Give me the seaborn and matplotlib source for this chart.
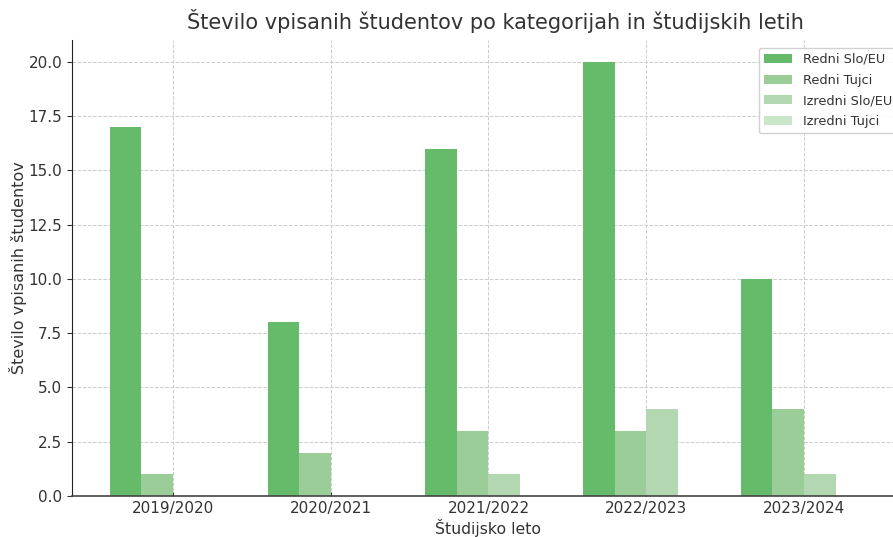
import numpy as np
import pandas as pd
import seaborn as sns
import matplotlib.pyplot as plt

leta = ["2019/2020", "2020/2021", "2021/2022", "2022/2023", "2023/2024"]
kategorije = ["Redni Slo/EU", "Redni Tujci", "Izredni Slo/EU", "Izredni Tujci"]
redni_slo = [17, 8, 16, 20, 10]
redni_tujci = [1, 2, 3, 3, 4]
izredni_slo = [0, 0, 1, 4, 1]
izredni_tujci = [0, 0, 0, 0, 0]
barve = ["#66bb6a", "#9bcd98", "#b3d8b1", "#c9e6c9"]

df = pd.DataFrame({
    "leto": leta * 4,
    "kategorija": np.repeat(kategorije, len(leta)),
    "stevilo": redni_slo + redni_tujci + izredni_slo + izredni_tujci,
})

plt.rcParams["font.family"] = ["DejaVu Sans"]
fig = plt.figure(figsize=(8.93, 5.37), dpi=100)
ax = fig.add_axes([0.0806, 0.0764, 0.9328, 0.849])

sns.barplot(data=df, x="leto", y="stevilo", hue="kategorija", palette=barve,
            saturation=1, width=0.8, ax=ax, zorder=2)

ax.set_xlim(-0.64, 4.64)
ax.set_ylim(0, 21)
ax.set_yticks(np.arange(0, 20.1, 2.5))
ax.grid(True, linestyle="--", color="#cccccc", linewidth=0.7, zorder=0)
ax.set_axisbelow(True)
for s in ["top", "right"]:
    ax.spines[s].set_visible(False)
ax.spines["left"].set_color("#222222")
ax.spines["bottom"].set_color("#444444")
ax.spines["bottom"].set_linewidth(1.2)
ax.tick_params(colors="#333333", labelsize=11)
ax.tick_params(axis="x", direction="in", length=3, pad=3.5)

ax.set_title("Število vpisanih študentov po kategorijah in študijskih letih",
             fontsize=15, color="#333333", pad=8, x=0.508)
ax.set_xlabel("Študijsko leto", fontsize=11.3, color="#333333", labelpad=2)
ax.set_ylabel("Število vpisanih študentov", fontsize=11.5, color="#333333", labelpad=1)
leg = ax.legend(loc="upper right", fontsize=9.3, title=None, framealpha=0.9,
                labelspacing=0.6, handlelength=2.2, borderaxespad=0.6)
for t in leg.get_texts():
    t.set_color("#333333")

fig.savefig("out.png", dpi=100)
